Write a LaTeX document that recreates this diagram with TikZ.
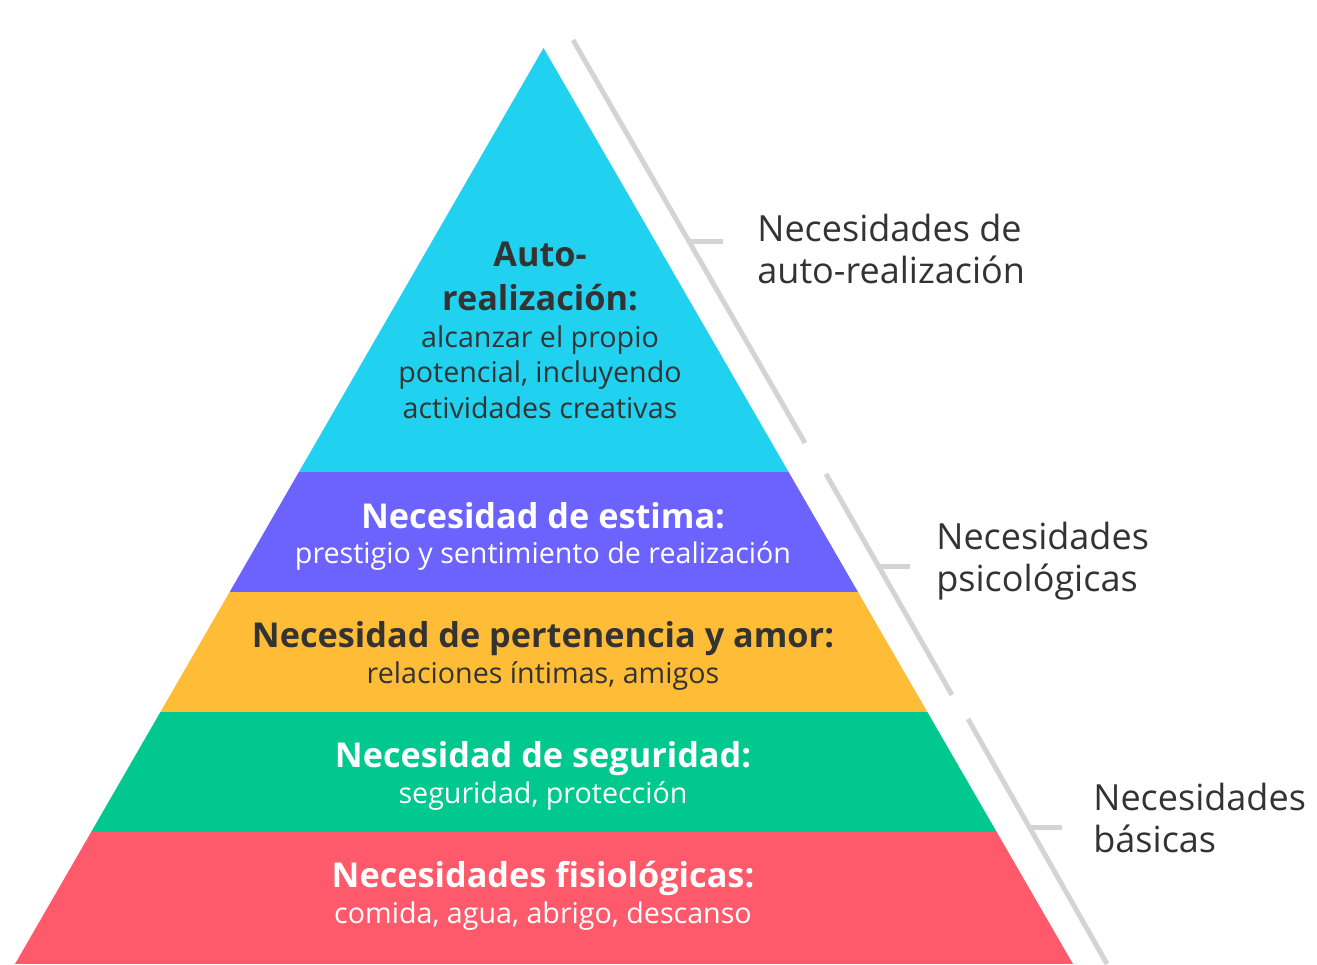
\documentclass[tikz,border=0pt]{standalone}
\usepackage{fontspec}
\setmainfont{Open Sans}
\usepackage{xcolor}
\usepackage{tikz}
\usetikzlibrary{calc}
\definecolor{cauto}{HTML}{20D2F0}
\definecolor{cestima}{HTML}{6C63FF}
\definecolor{camor}{HTML}{FFBC36}
\definecolor{cseguridad}{HTML}{00C88F}
\definecolor{cfisio}{HTML}{FF5A6B}
\definecolor{cgris}{HTML}{D4D4D4}
\definecolor{ctexto}{HTML}{333333}
\tikzset{
	titulo/.style={font=\fontsize{19.5}{25}\selectfont\bfseries,anchor=base,align=center,inner sep=0},
	texto/.style={font=\fontsize{16.3}{20.2}\selectfont,anchor=base,align=center,inner sep=0},
	grupo/.style={font=\fontsize{20.5}{23.9}\selectfont,anchor=base west,align=left,inner sep=0,text=ctexto},
	llave/.style={draw=cgris,line width=0.1cm}
}

\begin{document}
\begin{tikzpicture}[x=0.02cm,y=-0.02cm]
	\useasboundingbox (0,0) rectangle (1317,964);
	\coordinate (cima) at (543.5,48);
	\coordinate (base izq) at (15,964);
	\coordinate (base der) at (1073,964);
	\begin{scope}
		\clip (cima)--(base izq)--(base der)--cycle;
		\fill[cauto] (0,0) rectangle (1317,472);
		\fill[cestima] (0,472) rectangle (1317,592);
		\fill[camor] (0,592) rectangle (1317,712);
		\fill[cseguridad] (0,712) rectangle (1317,832);
		\fill[cfisio] (0,832) rectangle (1317,964);
	\end{scope}
	\node[titulo,text=ctexto] (auto) at (540,310) {Auto-\\realización:};
	\node[texto,text=ctexto] (auto txt) at (540,418) {alcanzar el propio\\potencial, incluyendo\\actividades creativas};
	\node[titulo,text=white] (estima) at (543,528) {Necesidad de estima:};
	\node[texto,text=white] (estima txt) at (543,563) {prestigio y sentimiento de realización};
	\node[titulo,text=ctexto] (amor) at (543,647) {Necesidad de pertenencia y amor:};
	\node[texto,text=ctexto] (amor txt) at (543,683) {relaciones íntimas, amigos};
	\node[titulo,text=white] (seguridad) at (543,767) {Necesidad de seguridad:};
	\node[texto,text=white] (seguridad txt) at (543,803) {seguridad, protección};
	\node[titulo,text=white] (fisio) at (543,887) {Necesidades fisiológicas:};
	\node[texto,text=white] (fisio txt) at (543,923) {comida, agua, abrigo, descanso};
	\coordinate (llave auto a) at (573,40);
	\coordinate (llave auto b) at (805,443);
	\coordinate (llave psico a) at (826,474);
	\coordinate (llave psico b) at (952,695);
	\coordinate (llave basica a) at (968,719);
	\coordinate (llave basica b) at (1107,964);
	\draw[llave] (llave auto a)--(llave auto b);
	\draw[llave] ($(llave auto a)!0.5!(llave auto b)$) -- ++(34,0);
	\draw[llave] (llave psico a)--(llave psico b);
	\draw[llave] ($(llave psico a)!0.42!(llave psico b)$) -- ++(31,0);
	\draw[llave] (llave basica a)--(llave basica b);
	\draw[llave] ($(llave basica a)!0.443!(llave basica b)$) -- ++(32,0);
	\node[grupo] (g auto) at (757,283) {Necesidades de\\auto-realización};
	\node[grupo] (g psico) at (936,591) {Necesidades\\psicológicas};
	\node[grupo] (g basica) at (1093,852) {Necesidades\\básicas};
\end{tikzpicture}
\end{document}
